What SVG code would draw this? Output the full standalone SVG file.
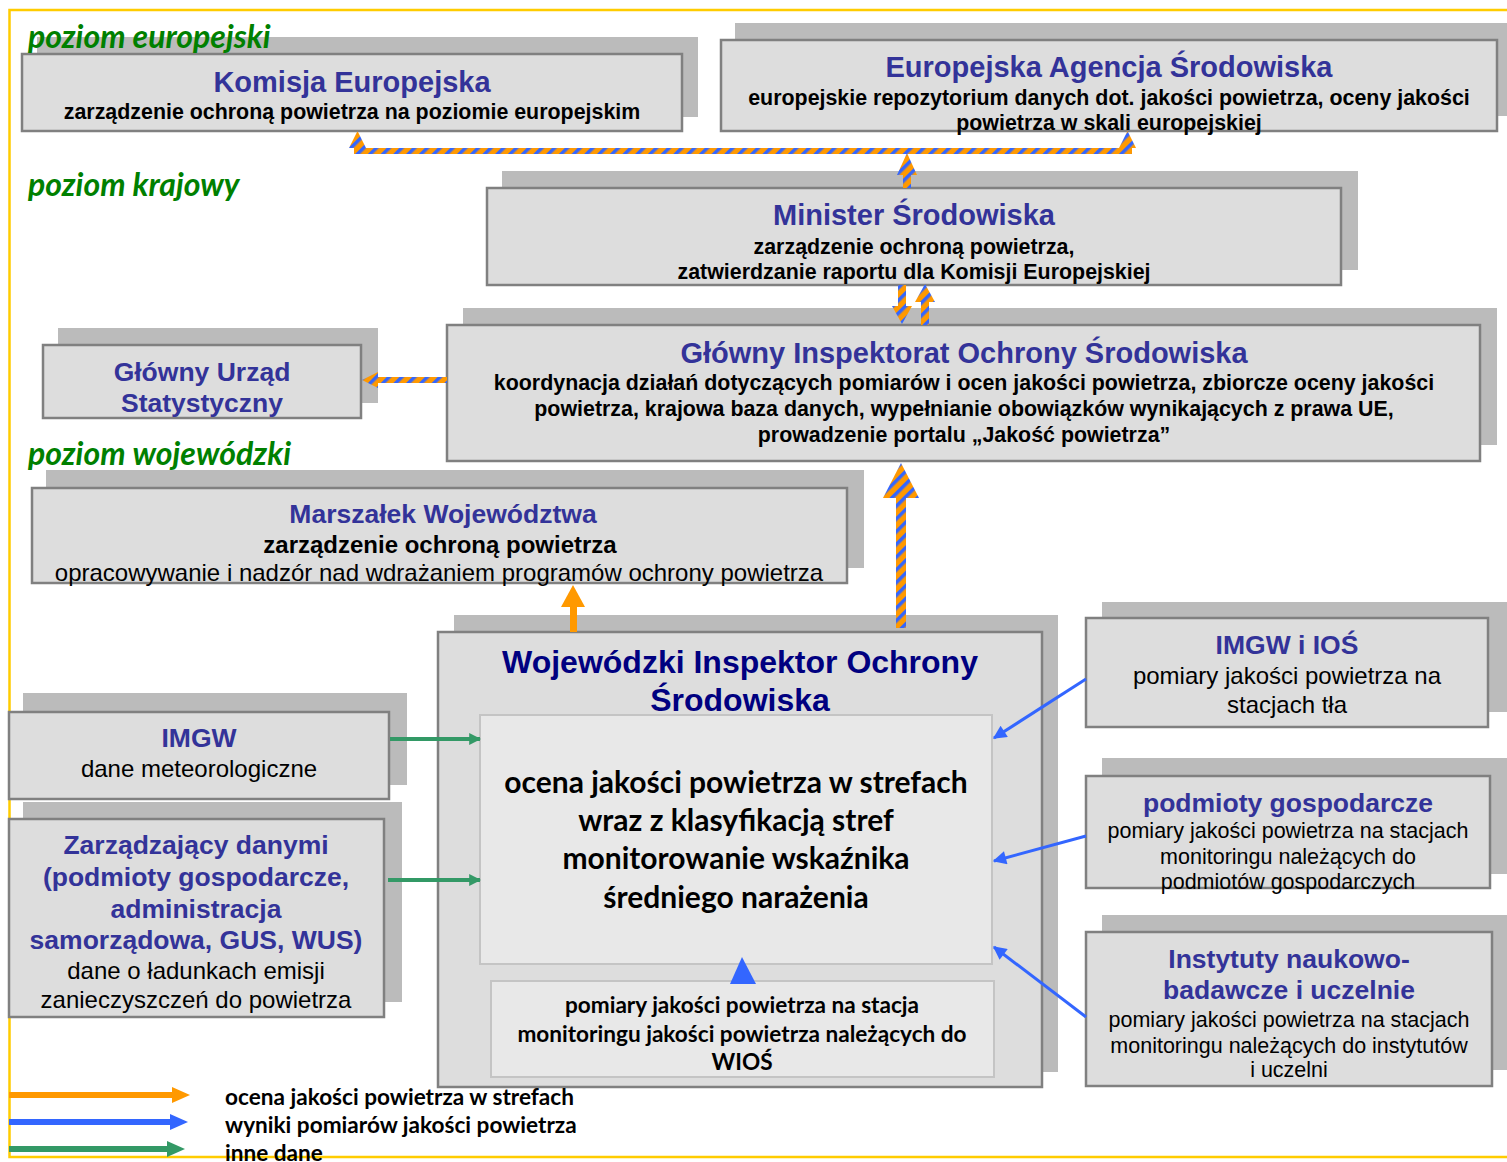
<svg xmlns="http://www.w3.org/2000/svg" width="1507" height="1162" viewBox="0 0 1507 1162">
<defs>
<pattern id="stripes" patternUnits="userSpaceOnUse" width="9" height="9" patternTransform="rotate(45)">
<rect width="9" height="9" fill="#ff9900"/>
<rect width="3.5" height="9" fill="#3366ff"/>
</pattern>
<marker id="hGreen" viewBox="0 0 10 10" refX="9" refY="5" markerWidth="3" markerHeight="3.2" orient="auto" markerUnits="strokeWidth">
<path d="M0,0 L10,5 L0,10 z" fill="#339966"/>
</marker>
<marker id="hBlue" viewBox="0 0 10 10" refX="9" refY="5" markerWidth="5" markerHeight="4.5" orient="auto" markerUnits="strokeWidth">
<path d="M0,0 L10,5 L0,10 z" fill="#3366ff"/>
</marker>
</defs>
<style>
.shadow{fill:#bbbbbb}
.box{fill:#dddddd;stroke:#808080;stroke-width:2.5}
.inner{fill:#e8e8e8;stroke:#c4c4c4;stroke-width:2}
.t{font-family:"Liberation Sans",Arial,sans-serif;font-weight:bold;fill:#333399;text-anchor:middle}
.s{font-family:"Liberation Sans",Arial,sans-serif;font-weight:bold;fill:#000;text-anchor:middle;font-size:21.4px}
.r{font-family:"Liberation Sans",Arial,sans-serif;fill:#000;text-anchor:middle}
.c{font-family:Lato,"Open Sans",sans-serif;font-weight:bold;fill:#000}
.lvl{font-family:Lato,"Open Sans",sans-serif;font-weight:bold;font-style:italic;fill:#008000;font-size:32px}
.st{fill:url(#stripes)}
</style>
<rect x="0" y="0" width="1507" height="1162" fill="#ffffff"/>
<rect x="9.5" y="10" width="1510" height="1147" fill="none" stroke="#ffcc00" stroke-width="2.5"/>

<g id="komisja">
<rect class="shadow" x="37" y="37" width="661" height="80"/>
<rect class="box" x="22" y="54" width="660" height="77"/>
<text class="t" x="352" y="92" font-size="29">Komisja Europejska</text>
<text class="s" x="352" y="119">zarządzenie ochroną powietrza na poziomie europejskim</text>
</g>

<g id="eea">
<rect class="shadow" x="735" y="23" width="780" height="93"/>
<rect class="box" x="721" y="40" width="776" height="91"/>
<text class="t" x="1109" y="77" font-size="29">Europejska Agencja Środowiska</text>
<text class="s" x="1109" y="105">europejskie repozytorium danych dot. jakości powietrza, oceny jakości</text>
<text class="s" x="1109" y="130">powietrza w skali europejskiej</text>
</g>

<g id="minister">
<rect class="shadow" x="502" y="171" width="856" height="99"/>
<rect class="box" x="487" y="188" width="854" height="97"/>
<text class="t" x="914" y="225" font-size="29">Minister Środowiska</text>
<text class="s" x="914" y="254">zarządzenie ochroną powietrza,</text>
<text class="s" x="914" y="279">zatwierdzanie raportu dla Komisji Europejskiej</text>
</g>

<g id="gus">
<rect class="shadow" x="58" y="328" width="320" height="75"/>
<rect class="box" x="43" y="345" width="318" height="73"/>
<text class="t" x="202" y="381" font-size="26.5">Główny Urząd</text>
<text class="t" x="202" y="412" font-size="26.5">Statystyczny</text>
</g>

<g id="gios">
<rect class="shadow" x="463" y="308" width="1034" height="137"/>
<rect class="box" x="447" y="325" width="1033" height="136"/>
<text class="t" x="964" y="363" font-size="29">Główny Inspektorat Ochrony Środowiska</text>
<text class="s" x="964" y="390">koordynacja działań dotyczących pomiarów i ocen jakości powietrza, zbiorcze oceny jakości</text>
<text class="s" x="964" y="416">powietrza, krajowa baza danych, wypełnianie obowiązków wynikających z prawa UE,</text>
<text class="s" x="964" y="442">prowadzenie portalu „Jakość powietrza”</text>
</g>

<g id="marszalek">
<rect class="shadow" x="46" y="470" width="818" height="98"/>
<rect class="box" x="32" y="488" width="815" height="95"/>
<text class="t" x="443" y="523" font-size="26.5">Marszałek Województwa</text>
<text class="s" x="440" y="553" style="font-size:24px">zarządzenie ochroną powietrza</text>
<text class="r" x="439" y="581" font-size="24">opracowywanie i nadzór nad wdrażaniem programów ochrony powietrza</text>
</g>

<g id="wios">
<rect class="shadow" x="454" y="615" width="604" height="457"/>
<rect class="box" x="438" y="632" width="604" height="455"/>
<text class="t" x="740" y="673" font-size="32" style="fill:#000080">Wojewódzki Inspektor Ochrony</text>
<text class="t" x="740" y="711" font-size="32" style="fill:#000080">Środowiska</text>
<rect class="inner" x="480" y="715" width="512" height="249"/>
<text class="c" x="736" y="793" font-size="30" text-anchor="middle">ocena jakości powietrza w strefach</text>
<text class="c" x="736" y="831" font-size="30" text-anchor="middle">wraz z klasyfikacją stref</text>
<text class="c" x="736" y="869" font-size="30" text-anchor="middle">monitorowanie wskaźnika</text>
<text class="c" x="736" y="908" font-size="30" text-anchor="middle">średniego narażenia</text>
<rect class="inner" x="491" y="981" width="503" height="96"/>
<text class="c" x="742" y="1013" font-size="22.6" text-anchor="middle">pomiary jakości powietrza na stacja</text>
<text class="c" x="742" y="1042" font-size="22.6" text-anchor="middle">monitoringu jakości powietrza należących do</text>
<text class="c" x="742" y="1070" font-size="22.6" text-anchor="middle">WIOŚ</text>
</g>

<g id="imgw">
<rect class="shadow" x="23" y="693" width="384" height="92"/>
<rect class="box" x="9" y="712" width="380" height="87"/>
<text class="t" x="199" y="747" font-size="26.5">IMGW</text>
<text class="r" x="199" y="777" font-size="24">dane meteorologiczne</text>
</g>

<g id="zarzadzajacy">
<rect class="shadow" x="23" y="802" width="379" height="200"/>
<rect class="box" x="9" y="819" width="375" height="198"/>
<text class="t" x="196" y="854" font-size="26.5">Zarządzający danymi</text>
<text class="t" x="196" y="886" font-size="26.5">(podmioty gospodarcze,</text>
<text class="t" x="196" y="918" font-size="26.5">administracja</text>
<text class="t" x="196" y="949" font-size="26.5">samorządowa, GUS, WUS)</text>
<text class="r" x="196" y="979" font-size="24">dane o ładunkach emisji</text>
<text class="r" x="196" y="1008" font-size="24">zanieczyszczeń do powietrza</text>
</g>

<g id="imgw-ios">
<rect class="shadow" x="1102" y="602" width="420" height="110"/>
<rect class="box" x="1086" y="618" width="402" height="109"/>
<text class="t" x="1287" y="654" font-size="26.5">IMGW i IOŚ</text>
<text class="r" x="1287" y="684" font-size="24">pomiary jakości powietrza na</text>
<text class="r" x="1287" y="713" font-size="24">stacjach tła</text>
</g>

<g id="podmioty">
<rect class="shadow" x="1102" y="758" width="420" height="116"/>
<rect class="box" x="1086" y="776" width="404" height="112"/>
<text class="t" x="1288" y="812" font-size="26.5">podmioty gospodarcze</text>
<text class="r" x="1288" y="838" font-size="21.5">pomiary jakości powietrza na stacjach</text>
<text class="r" x="1288" y="864" font-size="21.5">monitoringu należących do</text>
<text class="r" x="1288" y="889" font-size="21.5">podmiotów gospodarczych</text>
</g>

<g id="instytuty">
<rect class="shadow" x="1102" y="915" width="420" height="155"/>
<rect class="box" x="1086" y="932" width="406" height="154"/>
<text class="t" x="1289" y="968" font-size="26.5">Instytuty naukowo-</text>
<text class="t" x="1289" y="999" font-size="26.5">badawcze i uczelnie</text>
<text class="r" x="1289" y="1027" font-size="21.5">pomiary jakości powietrza na stacjach</text>
<text class="r" x="1289" y="1053" font-size="21.5">monitoringu należących do instytutów</text>
<text class="r" x="1289" y="1077" font-size="21.5">i uczelni</text>
</g>

<g id="levels">
<text class="lvl" x="28" y="48">poziom europejski</text>
<text class="lvl" x="28" y="196">poziom krajowy</text>
<text class="lvl" x="28" y="465">poziom wojewódzki</text>
</g>

<g id="connectors">
<rect class="st" x="354" y="148" width="778" height="6"/>
<polygon class="st" points="349,148 357.5,131 366,148"/>
<polygon class="st" points="1119,148 1127.5,131 1136,148"/>
<rect class="st" x="903" y="170" width="8" height="18"/>
<polygon class="st" points="897,175 907,153 917,175"/>
<rect class="st" x="898" y="285" width="8" height="23"/>
<polygon class="st" points="892,306 902,324 912,306"/>
<rect class="st" x="921" y="300" width="8" height="25"/>
<polygon class="st" points="915,302 925,284 935,302"/>
<rect class="st" x="375" y="377" width="72" height="6"/>
<polygon class="st" points="378,372 362,380 378,388"/>
<rect class="st" x="896" y="496" width="10" height="132"/>
<polygon class="st" points="883,498 901,463 919,498"/>
<rect x="570" y="604" width="7" height="28" fill="#ff9900"/>
<polygon points="561,607 573,585 585,607" fill="#ff9900"/>
<line x1="390" y1="739" x2="480" y2="739" stroke="#339966" stroke-width="4" marker-end="url(#hGreen)"/>
<line x1="388" y1="880" x2="480" y2="880" stroke="#339966" stroke-width="4" marker-end="url(#hGreen)"/>
<line x1="1086" y1="679" x2="994" y2="738" stroke="#3366ff" stroke-width="3" marker-end="url(#hBlue)"/>
<line x1="1086" y1="836" x2="994" y2="861" stroke="#3366ff" stroke-width="3" marker-end="url(#hBlue)"/>
<line x1="1086" y1="1017" x2="994" y2="947" stroke="#3366ff" stroke-width="3" marker-end="url(#hBlue)"/>
<polygon points="730,984 742,957 756,984" fill="#3366ff"/>
</g>

<g id="legend">
<rect x="9" y="1092" width="166" height="6" fill="#ff9900"/>
<polygon points="172,1087 190,1095 172,1103" fill="#ff9900"/>
<rect x="9" y="1119" width="164" height="6" fill="#3366ff"/>
<polygon points="170,1114 188,1122 170,1130" fill="#3366ff"/>
<rect x="9" y="1146" width="161" height="6" fill="#339966"/>
<polygon points="167,1141 185,1149 167,1157" fill="#339966"/>
<text class="c" x="225" y="1105" font-size="22.6">ocena jakości powietrza w strefach</text>
<text class="c" x="225" y="1133" font-size="22.6">wyniki pomiarów jakości powietrza</text>
<text class="c" x="225" y="1161" font-size="22.6">inne dane</text>
</g>
</svg>
